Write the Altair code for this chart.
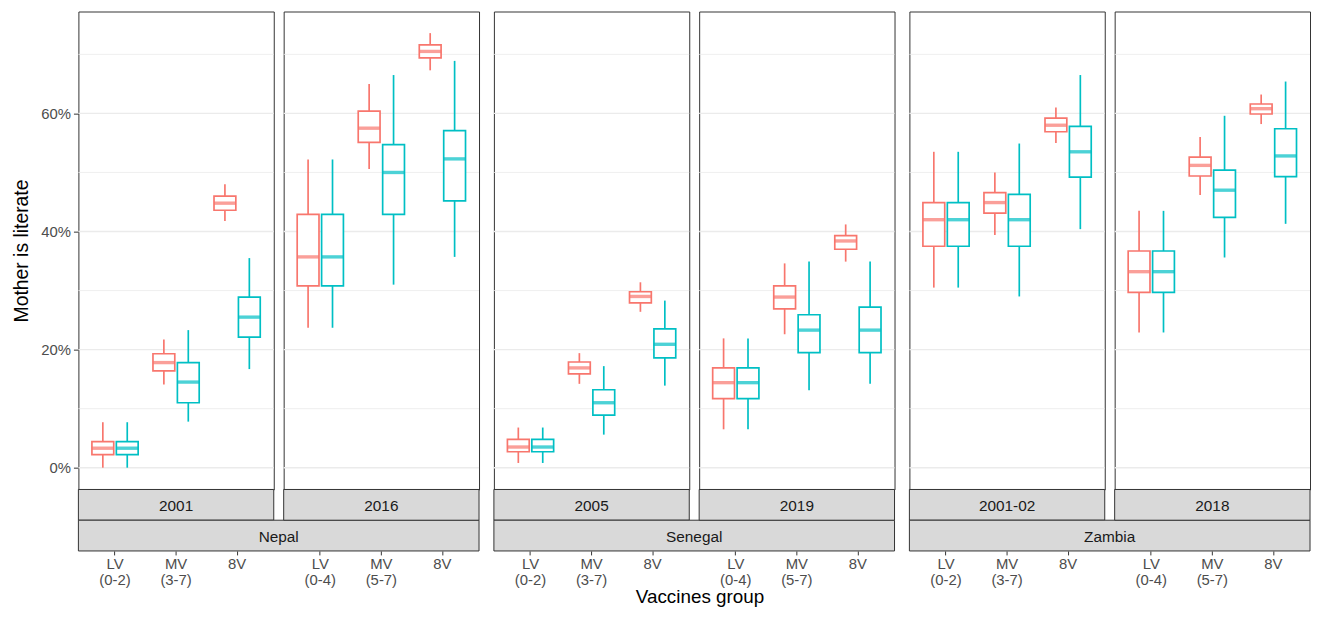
import altair as alt
import pandas as pd

FONT = "Liberation Sans"

countries = ["Nepal", "Nepal", "Senegal", "Senegal", "Zambia", "Zambia"]
years = ["2001", "2016", "2005", "2019", "2001-02", "2018"]
groups = ["LV", "MV", "8V"]
lv_ranges = ["(0-2)", "(0-4)", "(0-2)", "(0-4)", "(0-2)", "(0-4)"]
mv_ranges = ["(3-7)", "(5-7)", "(3-7)", "(5-7)", "(3-7)", "(5-7)"]
series = ["Series 1", "Series 2"]
colors = ["#F8766D", "#00BFC4"]

# per panel: [LV, MV, 8V]
a_lower = [[0.000, 0.141, 0.418], [0.237, 0.506, 0.673], [0.008, 0.142, 0.264],
           [0.065, 0.226, 0.349], [0.305, 0.394, 0.550], [0.229, 0.462, 0.582]]
a_q1 = [[0.022, 0.164, 0.436], [0.308, 0.551, 0.694], [0.027, 0.159, 0.279],
        [0.117, 0.269, 0.370], [0.375, 0.431, 0.569], [0.297, 0.494, 0.599]]
a_median = [[0.033, 0.178, 0.448], [0.357, 0.575, 0.705], [0.035, 0.169, 0.290],
            [0.144, 0.289, 0.384], [0.420, 0.449, 0.580], [0.332, 0.512, 0.608]]
a_q3 = [[0.044, 0.193, 0.460], [0.429, 0.604, 0.716], [0.048, 0.179, 0.298],
        [0.169, 0.308, 0.393], [0.449, 0.466, 0.592], [0.367, 0.526, 0.616]]
a_upper = [[0.077, 0.217, 0.480], [0.522, 0.650, 0.736], [0.068, 0.194, 0.314],
           [0.219, 0.346, 0.412], [0.535, 0.500, 0.610], [0.435, 0.560, 0.632]]

b_lower = [[0.000, 0.078, 0.167], [0.237, 0.310, 0.357], [0.008, 0.056, 0.139],
           [0.065, 0.131, 0.142], [0.305, 0.290, 0.404], [0.229, 0.356, 0.413]]
b_q1 = [[0.022, 0.110, 0.221], [0.308, 0.429, 0.452], [0.027, 0.089, 0.186],
        [0.117, 0.195, 0.195], [0.375, 0.375, 0.492], [0.297, 0.424, 0.493]]
b_median = [[0.033, 0.145, 0.255], [0.357, 0.500, 0.523], [0.035, 0.110, 0.209],
            [0.144, 0.233, 0.233], [0.420, 0.420, 0.535], [0.332, 0.470, 0.528]]
b_q3 = [[0.044, 0.178, 0.289], [0.429, 0.547, 0.571], [0.048, 0.132, 0.235],
        [0.169, 0.259, 0.272], [0.449, 0.463, 0.578], [0.367, 0.504, 0.574]]
b_upper = [[0.077, 0.233, 0.355], [0.522, 0.665, 0.689], [0.068, 0.172, 0.283],
           [0.219, 0.349, 0.349], [0.535, 0.549, 0.665], [0.435, 0.596, 0.654]]

grid_major = [0.0, 0.2, 0.4, 0.6]
grid_minor = [0.1, 0.3, 0.5, 0.7]
y_ticks = [0.0, 0.2, 0.4, 0.6]

W = 197
H = 482
STRIP = 31
Y_DOMAIN = [-0.0369, 0.7726]

stats = {
    series[0]: (a_lower, a_q1, a_median, a_q3, a_upper),
    series[1]: (b_lower, b_q1, b_median, b_q3, b_upper),
}

grid_df = pd.DataFrame(
    {"v": grid_major + grid_minor,
     "kind": ["major"] * len(grid_major) + ["minor"] * len(grid_minor)}
)

ysc = alt.Scale(domain=Y_DOMAIN, nice=False, zero=False)
csc = alt.Scale(domain=series, range=colors)


def panel(i, with_axis, country_strip):
    labels = [f"LV\n{lv_ranges[i]}", f"MV\n{mv_ranges[i]}", "8V"]
    rows = []
    for s in series:
        lo, q1, me, q3, up = stats[s]
        for g in range(3):
            rows.append({"label": labels[g], "group": groups[g], "series": s,
                         "lower": lo[i][g], "q1": q1[i][g], "median": me[i][g],
                         "q3": q3[i][g], "upper": up[i][g]})
    df = pd.DataFrame(rows)

    if with_axis:
        yax = alt.Axis(values=y_ticks, format=".0%", grid=False, domain=False,
                       tickColor="#333333", tickSize=5, tickWidth=1,
                       labelColor="#4D4D4D", labelFontSize=15, labelFont=FONT,
                       labelPadding=3, title="Mother is literate",
                       titleFont=FONT, titleFontSize=19.5, titleFontWeight="normal",
                       titleColor="black", titlePadding=9)
    else:
        yax = None

    xax = alt.Axis(orient="bottom", offset=2 * STRIP, domain=False,
                   tickColor="#333333", tickSize=4, tickWidth=1,
                   labelColor="#4D4D4D", labelFontSize=15, labelFont=FONT,
                   labelPadding=2, labelLineHeight=16, labelAngle=0,
                   labelExpr="split(datum.label, '\\n')", title=None)

    base = alt.Chart(df).encode(
        x=alt.X("label:N", sort=labels,
                scale=alt.Scale(paddingInner=0.2, paddingOuter=0.2), axis=xax),
        xOffset=alt.XOffset("series:N", sort=series),
    )

    grid = alt.Chart(grid_df).mark_rule(color="#EBEBEB").encode(
        y=alt.Y("v:Q", scale=ysc, axis=yax),
        strokeWidth=alt.StrokeWidth("kind:N",
                                    scale=alt.Scale(domain=["major", "minor"], range=[1.4, 0.8]),
                                    legend=None),
    )
    w_lo = base.mark_rule(strokeWidth=1.7).encode(
        y=alt.Y("lower:Q", scale=ysc, axis=yax), y2="q1:Q",
        color=alt.Color("series:N", scale=csc, legend=None))
    w_hi = base.mark_rule(strokeWidth=1.7).encode(
        y=alt.Y("q3:Q", scale=ysc, axis=yax), y2="upper:Q",
        color=alt.Color("series:N", scale=csc, legend=None))
    box = base.mark_bar(size=22, fill="white", strokeWidth=1.7).encode(
        y=alt.Y("q1:Q", scale=ysc, axis=yax), y2="q3:Q",
        stroke=alt.Stroke("series:N", scale=csc, legend=None))
    med = base.mark_tick(size=22, thickness=3.4).encode(
        y=alt.Y("median:Q", scale=ysc, axis=yax),
        color=alt.Color("series:N", scale=csc, legend=None))

    strip_df = pd.DataFrame({"year": [years[i]], "country": [countries[i]]})
    s_rect = alt.Chart(strip_df).mark_rect(fill="#D9D9D9", stroke="#333333", strokeWidth=1).encode(
        x=alt.value(0), x2=alt.value(W), y=alt.value(H), y2=alt.value(H + STRIP))
    s_text = alt.Chart(strip_df).mark_text(font=FONT, fontSize=15.5, color="#1A1A1A",
                                           baseline="middle", align="center").encode(
        x=alt.value(W / 2), y=alt.value(H + STRIP / 2 + 1), text="year:N")
    layers = [grid, w_lo, w_hi, box, med, s_rect, s_text]
    if country_strip:
        cw = 2 * W + 10
        c_rect = alt.Chart(strip_df).mark_rect(fill="#D9D9D9", stroke="#333333", strokeWidth=1).encode(
            x=alt.value(0), x2=alt.value(cw), y=alt.value(H + STRIP), y2=alt.value(H + 2 * STRIP))
        c_text = alt.Chart(strip_df).mark_text(font=FONT, fontSize=15.5, color="#1A1A1A",
                                               baseline="middle", align="center").encode(
            x=alt.value(cw / 2), y=alt.value(H + 1.5 * STRIP + 1), text="country:N")
        layers += [c_rect, c_text]
    return alt.layer(*layers).properties(width=W, height=H)


pairs = []
for p in range(3):
    left = panel(2 * p, with_axis=(p == 0), country_strip=True)
    right = panel(2 * p + 1, with_axis=False, country_strip=False)
    pairs.append(alt.hconcat(left, right, spacing=10, bounds="flush"))

PAD = {"left": 3, "top": 0, "right": 0, "bottom": 0}

chart = alt.hconcat(*pairs, spacing=11).properties(
    title=alt.TitleParams("Vaccines group", orient="bottom", anchor="middle",
                          fontSize=19, fontWeight="normal", font=FONT, color="black",
                          offset=0, dx=39),
    padding=PAD,
    background="white",
).configure_view(stroke="#333333", strokeWidth=1)

chart.save("out.html", embed_options={"renderer": "svg", "actions": False})
